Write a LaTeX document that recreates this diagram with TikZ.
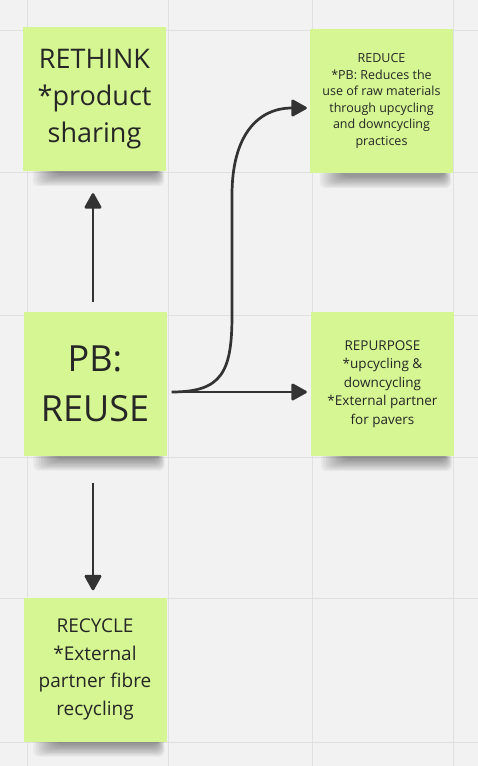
\documentclass[tikz,border=0pt]{standalone}
\usepackage{fontspec}
\setmainfont{Open Sans}
\usetikzlibrary{arrows.meta,calc}
\definecolor{bgc}{HTML}{F2F2F2}
\definecolor{gridc}{HTML}{E0E0E0}
\definecolor{notec}{HTML}{D5F692}
\definecolor{inkc}{HTML}{333333}
\definecolor{txtc}{HTML}{262626}
\tikzset{
  note/.style={fill=notec, draw=none, minimum width=143pt, minimum height=144pt,
    align=center, text=txtc, inner sep=0pt},
  arr/.style={draw=inkc, line width=2.7pt,
    -{Triangle[length=17pt,width=18pt,round]}},
  gridline/.style={draw=gridc, line width=1pt}
}
\newcommand{\noteshadow}[1]{%
  \foreach \k in {0,...,9}{%
    \fill[black, opacity=0.045, rounded corners=6pt]
      ($(#1.south west)+(10+2.5*\k,-3)$) rectangle ($(#1.south east)+(-2-0.8*\k,15-1.3*\k)$);
  }%
}
\begin{document}
\begin{tikzpicture}[x=1pt,y=-1pt]
\fill[bgc] (0,0) rectangle (478,766);
\useasboundingbox (0,0) rectangle (478,766);
\foreach \gx in {27,168,312,453} \draw[gridline] (\gx,0) -- (\gx,766);
\foreach \gy in {30,172,315,457,598,742} \draw[gridline] (0,\gy) -- (478,\gy);

\coordinate (c1) at (94.5,99);
\coordinate (c2) at (381.5,101);
\coordinate (c3) at (95,383.5);
\coordinate (c4) at (382.5,384);
\coordinate (c5) at (95,669.5);

% invisible placeholders for shadows
\path (c1) node[minimum width=143pt,minimum height=144pt] (s1) {};
\path (c2) node[minimum width=143pt,minimum height=144pt] (s2) {};
\path (c3) node[minimum width=143pt,minimum height=144pt] (s3) {};
\path (c4) node[minimum width=143pt,minimum height=144pt] (s4) {};
\path (c5) node[minimum width=143pt,minimum height=144pt] (s5) {};
\noteshadow{s1}\noteshadow{s2}\noteshadow{s3}\noteshadow{s4}\noteshadow{s5}

\node[note, font=\fontsize{27}{37}\selectfont] (rethink) at (c1) {RETHINK\\*product\\sharing};
\node[note, font=\fontsize{12.5}{16.5}\selectfont] (reduce) at (c2) {REDUCE\\*PB: Reduces the\\use of raw materials\\through upcycling\\and downcycling\\practices};
\node[note, font=\fontsize{36}{50}\selectfont] (reuse) at (c3) {PB:\\REUSE};
\node[note, font=\fontsize{13.5}{18.5}\selectfont] (repurpose) at (c4) {REPURPOSE\\*upcycling \&\\downcycling\\*External partner\\for pavers};
\node[note, font=\fontsize{19}{27.5}\selectfont] (recycle) at (c5) {RECYCLE\\*External\\partner fibre\\recycling};

% connectors
\draw[arr, shorten <=9pt, shorten >=22pt] ([xshift=-2pt]reuse.north) -- ([xshift=-1.5pt]rethink.south);
\draw[arr, shorten <=27pt, shorten >=7pt] ([xshift=-2pt]reuse.south) -- ([xshift=-2pt]recycle.north);
\draw[arr, shorten <=5pt, shorten >=4pt] ($(reuse.east)+(0,8.5)$) -- ($(repurpose.west)+(0,8)$);
\coordinate (cs) at ($(reuse.east)+(5,8.5)$);
\coordinate (ce) at ($(reduce.west)+(-3,7)$);
\draw[arr] (cs) .. controls (222,392) and (232,372) .. (232,315)
  -- (232,195) .. controls (232,135) and (258,108) .. (ce);
\end{tikzpicture}
\end{document}
